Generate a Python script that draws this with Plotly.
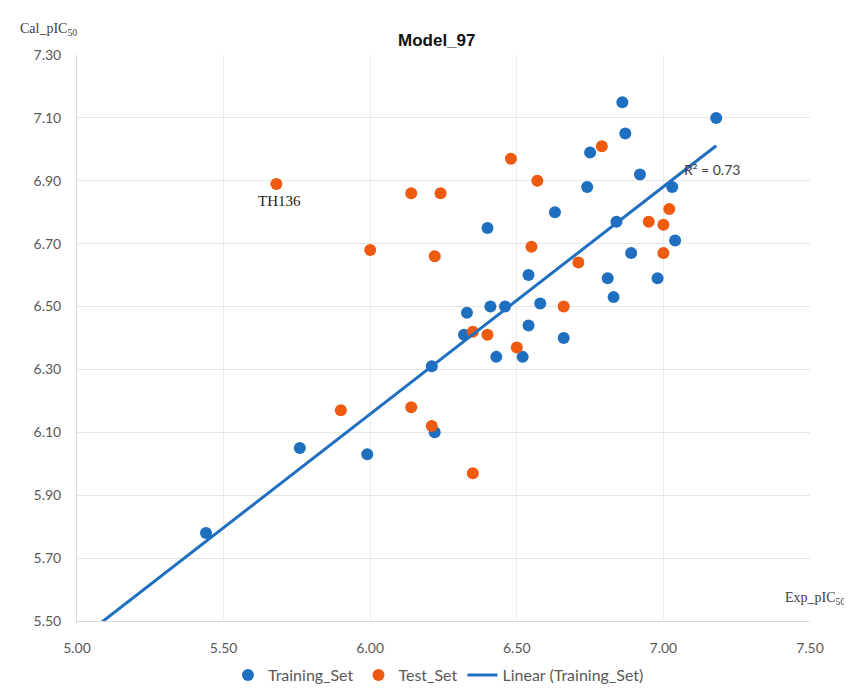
import numpy as np
import plotly.graph_objects as go

# Training set (Exp, Cal)
train_exp = [5.44, 5.76, 5.99, 6.21, 6.22, 6.32, 6.33, 6.41, 6.46, 6.43, 6.52, 6.54, 6.58, 6.54, 6.66,
             6.40, 6.63, 6.74, 6.75, 6.86, 6.87, 7.18, 6.92, 7.03, 6.84, 6.89, 6.81, 6.83, 6.98, 7.04]
train_cal = [5.78, 6.05, 6.03, 6.31, 6.10, 6.41, 6.48, 6.50, 6.50, 6.34, 6.34, 6.44, 6.51, 6.60, 6.40,
             6.75, 6.80, 6.88, 6.99, 7.15, 7.05, 7.10, 6.92, 6.88, 6.77, 6.67, 6.59, 6.53, 6.59, 6.71]

# Test set (Exp, Cal)
test_exp = [5.68, 5.90, 6.00, 6.14, 6.24, 6.14, 6.21, 6.22, 6.35, 6.35, 6.40, 6.50, 6.48, 6.57,
            6.55, 6.66, 6.71, 6.79, 6.95, 7.00, 7.02, 7.00]
test_cal = [6.89, 6.17, 6.68, 6.86, 6.86, 6.18, 6.12, 6.66, 5.97, 6.42, 6.41, 6.37, 6.97, 6.90,
            6.69, 6.50, 6.64, 7.01, 6.77, 6.76, 6.81, 6.67]

x_ticks = [5.00, 5.50, 6.00, 6.50, 7.00, 7.50]
y_ticks = [5.50, 5.70, 5.90, 6.10, 6.30, 6.50, 6.70, 6.90, 7.10, 7.30]
r2_text = "R² = 0.73"
outlier_label = "TH136"

BLUE = "#1f6fc0"
ORANGE = "#ee5a10"

slope, intercept = np.polyfit(train_exp, train_cal, 1)
line_x = np.array([5.0, max(train_exp)])
line_y = slope * line_x + intercept

fig = go.Figure()
fig.add_trace(go.Scatter(x=train_exp, y=train_cal, mode="markers", name="Training_Set",
                         marker=dict(color=BLUE, size=12)))
fig.add_trace(go.Scatter(x=test_exp, y=test_cal, mode="markers", name="Test_Set",
                         marker=dict(color=ORANGE, size=12)))
fig.add_trace(go.Scatter(x=line_x, y=line_y, mode="lines", name="Linear (Training_Set)",
                         line=dict(color=BLUE, width=3)))

tickfont = dict(family="Lato, Open Sans, sans-serif", size=14, color="#595959")
fig.update_xaxes(range=[5.0, 7.5], tickvals=x_ticks, ticktext=[f"{v:.2f}" for v in x_ticks],
                 showgrid=True, gridcolor="#ececec", zeroline=False,
                 showline=True, linecolor="#d9d9d9", linewidth=1,
                 tickfont=tickfont, ticklabelstandoff=14)
fig.update_yaxes(range=[5.5, 7.3], tickvals=y_ticks, ticktext=[f"{v:.2f}" for v in y_ticks],
                 showgrid=True, gridcolor="#e6e6e6", zeroline=False,
                 showline=True, linecolor="#d9d9d9", linewidth=1,
                 tickfont=tickfont, ticklabelstandoff=12)

fig.add_annotation(x=5.69, y=6.835, text=outlier_label, showarrow=False,
                   font=dict(family="Liberation Serif, serif", size=15, color="#222222"))
fig.add_annotation(x=7.065, y=6.935, text=r2_text, showarrow=False, xanchor="left",
                   font=dict(family="Lato, sans-serif", size=14, color="#404040"))
fig.add_annotation(xref="paper", yref="paper", x=-0.08, y=1.045, xanchor="left", yanchor="middle",
                   text="Cal_pIC<sub>50</sub>", showarrow=False,
                   font=dict(family="Liberation Serif, serif", size=14, color="#404040"))
fig.add_annotation(xref="paper", yref="paper", x=1.05, y=0.04, xanchor="right", yanchor="middle",
                   text="Exp_pIC<sub>50</sub>", showarrow=False,
                   font=dict(family="Liberation Serif, serif", size=14, color="#404040"))

# page body adds an 8px offset, so the figure is sized to fill the rest of the window
fig.update_layout(
    width=844, height=685,
    margin=dict(l=69, r=42, t=47, b=72, autoexpand=False),
    paper_bgcolor="white", plot_bgcolor="white",
    title=dict(text="<b>Model_97</b>", x=0.508, xanchor="center", y=0.953, yanchor="middle",
               font=dict(family="Liberation Sans, Arial, sans-serif", size=17, color="#111111")),
    legend=dict(orientation="h", x=0.51, xanchor="center", xref="container",
                y=0.026, yanchor="middle", yref="container",
                font=dict(family="Lato, sans-serif", size=16, color="#595959"),
                itemwidth=30),
    showlegend=True,
)

fig.write_html("out.html")
